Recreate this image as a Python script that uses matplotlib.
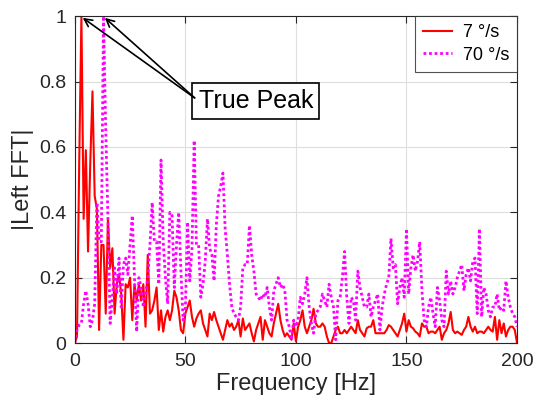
import matplotlib
matplotlib.use("Agg")
import matplotlib.pyplot as plt
import numpy as np

plt.rcParams['font.family'] = ['Liberation Sans', 'DejaVu Sans']

# frequency axis, 1 Hz bins
freq = np.arange(0, 201)

# |Left FFT| at 7 deg/s
slow = [0.00, 0.02, 0.55, 1.00, 0.38, 0.59, 0.28, 0.55, 0.77, 0.45,
        0.41, 0.04, 0.30, 0.30, 0.09, 0.38, 0.23, 0.29, 0.09, 0.18,
        0.21, 0.15, 0.01, 0.18, 0.17, 0.20, 0.07, 0.18, 0.13, 0.18,
        0.13, 0.18, 0.05, 0.27, 0.09, 0.10, 0.13, 0.17, 0.04, 0.10,
        0.035, 0.08, 0.10, 0.07, 0.10, 0.16, 0.14, 0.10, 0.04, 0.03,
        0.09, 0.11, 0.13, 0.08, 0.05, 0.075, 0.09, 0.10, 0.06, 0.04,
        0.02, 0.09, 0.07, 0.095, 0.07, 0.05, 0.03, 0.01, 0.04, 0.07,
        0.05, 0.06, 0.04, 0.05, 0.07, 0.02, 0.075, 0.04, 0.05, 0.06,
        0.03, 0.005, 0.04, 0.06, 0.08, 0.01, 0.07, 0.05, 0.03, 0.02,
        0.06, 0.09, 0.12, 0.07, 0.04, 0.02, 0.03, 0.02, 0.01, 0.06,
        0.005, 0.05, 0.07, 0.10, 0.05, 0.03, 0.05, 0.07, 0.105, 0.06,
        0.05, 0.05, 0.06, 0.05, 0.02, 0.00, 0.00, 0.02, 0.04, 0.05,
        0.03, 0.03, 0.04, 0.03, 0.04, 0.05, 0.04, 0.03, 0.07, 0.04,
        0.03, 0.02, 0.045, 0.05, 0.05, 0.07, 0.03, 0.03, 0.03, 0.03,
        0.03, 0.04, 0.055, 0.05, 0.04, 0.03, 0.02, 0.04, 0.06, 0.09,
        0.035, 0.07, 0.05, 0.045, 0.035, 0.03, 0.02, 0.06, 0.05, 0.05,
        0.03, 0.035, 0.035, 0.03, 0.04, 0.05, 0.01, 0.03, 0.04, 0.06,
        0.095, 0.04, 0.03, 0.035, 0.03, 0.025, 0.04, 0.05, 0.08, 0.05,
        0.035, 0.05, 0.03, 0.035, 0.035, 0.03, 0.04, 0.05, 0.04, 0.035,
        0.08, 0.01, 0.07, 0.03, 0.06, 0.02, 0.04, 0.05, 0.05, 0.04,
        0.00]

# |Left FFT| at 70 deg/s
fast = [0.00, 0.04, 0.055, 0.06, 0.12, 0.16, 0.12, 0.05, 0.07, 0.12,
        0.43, 0.31, 0.31, 1.00, 0.65, 0.38, 0.06, 0.14, 0.23, 0.15,
        0.26, 0.11, 0.24, 0.26, 0.21, 0.30, 0.39, 0.20, 0.035, 0.20,
        0.17, 0.11, 0.15, 0.20, 0.30, 0.43, 0.31, 0.31, 0.18, 0.56,
        0.31, 0.20, 0.12, 0.40, 0.39, 0.17, 0.30, 0.40, 0.22, 0.07,
        0.10, 0.37, 0.19, 0.29, 0.62, 0.30, 0.30, 0.14, 0.18, 0.25,
        0.38, 0.29, 0.27, 0.19, 0.36, 0.45, 0.48, 0.52, 0.35, 0.27,
        0.18, 0.11, 0.09, 0.08, 0.07, 0.11, 0.23, 0.24, 0.24, 0.36,
        0.27, 0.22, 0.15, 0.14, 0.13, 0.15, 0.14, 0.17, 0.11, 0.07,
        0.16, 0.18, 0.20, 0.17, 0.18, 0.16, 0.07, 0.05, 0.01, 0.07,
        0.05, 0.07, 0.14, 0.12, 0.15, 0.20, 0.11, 0.06, 0.03, 0.09,
        0.10, 0.11, 0.15, 0.13, 0.11, 0.18, 0.14, 0.11, 0.01, 0.13,
        0.14, 0.20, 0.28, 0.14, 0.06, 0.14, 0.13, 0.07, 0.22, 0.17,
        0.14, 0.11, 0.11, 0.15, 0.08, 0.11, 0.13, 0.15, 0.04, 0.11,
        0.15, 0.18, 0.20, 0.32, 0.23, 0.24, 0.12, 0.17, 0.20, 0.14,
        0.35, 0.15, 0.23, 0.27, 0.22, 0.25, 0.31, 0.16, 0.07, 0.05,
        0.11, 0.14, 0.09, 0.05, 0.17, 0.13, 0.07, 0.05, 0.22, 0.15,
        0.19, 0.15, 0.17, 0.20, 0.22, 0.24, 0.16, 0.21, 0.23, 0.19,
        0.25, 0.26, 0.09, 0.35, 0.08, 0.17, 0.15, 0.10, 0.08, 0.11,
        0.11, 0.15, 0.10, 0.11, 0.10, 0.19, 0.14, 0.11, 0.09, 0.08,
        0.05]

labels = ['7 °/s', '70 °/s']
peak_slow = (3, 1.0)
peak_fast = (13, 1.0)

fig = plt.figure(figsize=(5.38, 4.05), dpi=100)
ax = fig.add_axes([0.139, 0.153, 0.822, 0.807])

ax.plot(freq, slow, color='red', lw=1.5, label=labels[0])
ax.plot(freq, fast, color='magenta', lw=2.0, ls=(0, (1, 1)), label=labels[1])

ax.set_xlim(0, 200)
ax.set_ylim(0, 1)
ax.set_xticks([0, 50, 100, 150, 200])
ax.set_yticks([0, 0.2, 0.4, 0.6, 0.8, 1])
ax.set_yticklabels(['0', '0.2', '0.4', '0.6', '0.8', '1'])
ax.grid(True, color='#dedede', lw=0.8)
ax.set_axisbelow(True)
ax.tick_params(direction='in', top=True, right=True, labelsize=14,
               colors='#262626', length=5)
ax.tick_params(axis='x', pad=7)
ax.tick_params(axis='y', pad=6)
for s in ax.spines.values():
    s.set_color('#262626')
    s.set_linewidth(0.8)

ax.set_xlabel('Frequency [Hz]', fontsize=17, color='#262626', labelpad=2)
ax.set_ylabel('|Left FFT|', fontsize=17, color='#262626', labelpad=4)

leg = ax.legend(loc='upper right', fontsize=13, frameon=True, fancybox=False,
                borderaxespad=0, handlelength=1.6, borderpad=0.45,
                labelspacing=0.3, handletextpad=0.6)
leg.get_frame().set_edgecolor('#262626')
leg.get_frame().set_linewidth(0.8)

# annotation box and two arrows
ax.text(56.0, 0.74, 'True Peak', fontsize=18, ha='left', va='center',
        bbox=dict(boxstyle='square,pad=0.25', fc='white', ec='black', lw=1.2))
for pk in [peak_slow, peak_fast]:
    ax.annotate('', xy=(pk[0] + 0.6, pk[1] - 0.005), xytext=(54.2, 0.75),
                arrowprops=dict(arrowstyle='->', color='black', lw=1.2,
                                mutation_scale=14, shrinkA=0, shrinkB=0))

plt.savefig('out.png', dpi=100)
